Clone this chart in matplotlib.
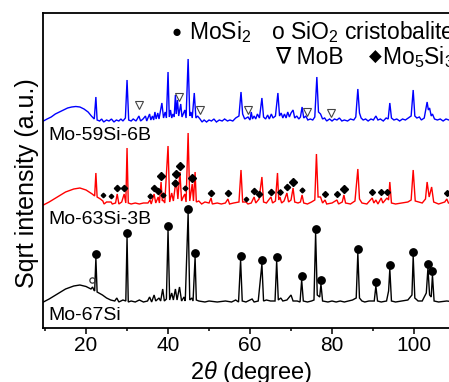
import matplotlib
matplotlib.use('Agg')
import matplotlib.pyplot as plt

plt.rcParams['font.family'] = ['Liberation Sans', 'DejaVu Sans']
plt.rcParams['mathtext.fontset'] = 'custom'
plt.rcParams['mathtext.rm'] = 'Liberation Sans'
plt.rcParams['mathtext.it'] = 'Liberation Sans:italic'

# ---------------- data (2theta in degree, intensity in arbitrary units above each baseline) -------------
mo67si_profile = [
    (9.6, 1), (11, 4), (13, 9), (15, 14), (17, 17), (18.5, 18), (20, 16.5), (21.2, 14), (21.6, 16), (21.9, 13),
    (22.1, 12), (22.4, 45), (22.7, 11), (24, 8), (25, 5), (26, 3), (27, 2), (27.5, 5), (28, 1), (29, 3), (29.7, 2),
    (30.0, 66), (30.3, 1), (31, 2), (32, 1), (33, 3), (34, 1), (35, 2), (35.5, 6), (36, 1), (36.6, 8), (37, 2),
    (37.8, 5), (38.2, 2), (38.7, 14), (39.1, 2), (39.6, 4), (40.0, 73), (40.4, 3), (40.9, 10), (41.3, 3),
    (41.8, 14), (42.2, 3), (42.8, 16), (43.3, 2), (43.9, 6), (44.2, 2), (44.9, 90), (45.3, 3), (45.8, 5),
    (46.1, 2), (46.6, 46), (46.9, 3), (47.5, 2), (49, 1), (50, 2), (52, 1), (54, 2), (55.5, 1), (56.5, 3),
    (57.2, 1), (57.7, 43), (58.1, 2), (59, 1), (60.5, 4), (61, 1), (62, 2), (62.9, 39), (63.3, 2), (64, 3),
    (65, 2), (66.1, 2), (66.5, 42), (66.9, 3), (67.5, 5), (68, 2), (69, 3), (70, 8), (70.5, 2), (71.5, 2),
    (72.2, 1), (72.6, 23), (73, 2), (74, 1), (75, 2), (75.6, 3), (76.0, 70), (76.4, 8), (77.0, 6), (77.3, 19),
    (77.7, 2), (79, 1), (80, 2), (81, 1), (82, 2), (83, 1), (84, 2), (85, 3), (85.9, 5), (86.3, 50), (86.7, 5),
    (87.3, 2), (88, 1), (89, 2), (90.3, 2), (90.7, 17), (91.1, 2), (92, 1), (93.3, 2), (93.8, 12), (94.1, 34),
    (94.5, 2), (95.5, 1), (97, 2), (98.5, 3), (99.5, 8), (99.8, 47), (100.2, 5), (101, 2), (102, 2), (103.0, 10),
    (103.4, 35), (103.8, 8), (104.2, 6), (104.5, 28), (104.9, 2), (106, 1), (108, 2), (110, 1),
]

mo63si3b_profile = [
    (9.6, 0), (11, 3), (13, 8), (15, 13), (17, 16), (18.5, 17), (20, 15), (21.5, 11), (22.1, 9), (22.4, 32),
    (22.7, 8), (23.5, 6), (24.1, 4), (24.4, 1), (25, 3), (26.1, 3), (26.4, 1), (27.2, 2), (27.6, 11), (28, 1),
    (28.7, 3), (29.3, 11), (29.7, 2), (30.0, 57), (30.3, 2), (31, 1), (32, 2), (33, 1), (34, 2), (35.1, 2),
    (35.6, 5), (35.9, 1), (36.6, 11), (37, 2), (37.6, 8), (37.9, 2), (38.3, 23), (38.6, 4), (38.8, 5), (39.2, 2),
    (40.0, 59), (40.4, 3), (40.9, 12), (41.3, 4), (41.7, 17), (42.0, 25), (42.4, 6), (42.9, 33), (43.3, 4),
    (43.7, 8), (44.1, 11), (44.4, 3), (44.9, 72), (45.3, 4), (45.9, 21), (46.2, 4), (46.6, 33), (46.9, 3),
    (47.5, 4), (48.2, 1), (49, 3), (50, 2), (50.5, 7), (50.8, 1), (52, 2), (53, 1), (54, 2), (54.6, 6), (55, 1),
    (56, 2), (57.3, 3), (57.8, 35), (58.2, 3), (59.0, 3), (59.5, 1), (60.3, 2), (61.0, 8), (61.4, 2), (62.2, 6),
    (62.9, 28), (63.3, 3), (64, 2), (65.1, 8), (65.5, 2), (66.2, 4), (66.7, 32), (67.0, 5), (67.3, 8), (67.7, 2),
    (68.3, 4), (69.0, 12), (69.4, 3), (70.0, 5), (70.5, 17), (70.9, 3), (71.7, 2), (72.3, 3), (72.7, 10),
    (73.1, 2), (74, 1), (75, 3), (75.8, 5), (76.2, 51), (76.6, 8), (77.2, 8), (77.7, 2), (78.3, 5), (78.7, 1),
    (80, 2), (81.2, 5), (81.6, 1), (82.5, 3), (82.9, 10), (83.3, 2), (84.5, 1), (85.6, 4), (86.3, 36), (86.7, 6),
    (87.3, 2), (88.5, 1), (89.8, 7), (90.2, 2), (90.7, 5), (91.2, 1), (92.0, 7), (92.4, 2), (93.4, 7), (93.8, 5),
    (94.1, 23), (94.5, 2), (95.5, 1), (97, 2), (98.5, 3), (99.3, 5), (99.8, 35), (100.3, 4), (101.2, 3),
    (102, 2), (102.8, 6), (103.2, 23), (103.7, 8), (104.3, 18), (104.8, 3), (106, 1), (107.5, 3), (108.0, 6),
    (108.4, 2), (110, 1),
]

mo59si6b_profile = [
    (9.6, 1), (10.5, 3), (11.5, 5), (12.5, 8), (13.5, 10), (14.5, 12), (15.5, 14), (16.5, 15), (17.5, 15.5),
    (18.5, 15), (19.5, 13), (20.5, 10), (21.3, 6), (22.0, 3), (22.4, 25), (22.7, 2), (23.3, 1), (23.8, 3),
    (24.3, 0), (25, 2), (25.6, 1), (26.2, 3), (26.8, 0), (27.4, 2), (28, 1), (28.5, 3), (29, 1), (29.6, 4),
    (30.0, 42), (30.4, 2), (31, 1), (31.5, 3), (32.2, 1), (32.9, 6), (33.3, 1), (33.9, 3), (34.5, 6), (34.8, 1),
    (35.5, 8), (35.8, 2), (36.2, 6), (36.5, 2), (36.8, 10), (37.1, 3), (37.5, 9), (37.8, 3), (38.5, 19),
    (38.9, 4), (39.3, 10), (39.6, 4), (40.0, 50), (40.3, 5), (40.6, 12), (40.9, 4), (41.2, 8), (41.5, 5),
    (41.8, 27), (42.0, 8), (42.3, 22), (42.6, 6), (43.1, 18), (43.4, 5), (43.7, 8), (44.1, 12), (44.4, 4),
    (44.9, 63), (45.3, 6), (45.6, 10), (45.9, 4), (46.4, 29), (46.8, 4), (47.2, 6), (47.8, 3), (48.3, 0),
    (48.8, 2), (49.4, 0), (50, 2), (50.6, 1), (51.2, 3), (51.8, 0), (52.5, 2), (53.2, 1), (53.8, 3), (54.5, 1),
    (55.1, 2), (55.8, 1), (56.5, 4), (57.3, 6), (57.8, 30), (58.2, 8), (58.7, 3), (59.5, 5), (60.0, 2),
    (60.3, 10), (60.6, 3), (61.0, 6), (61.4, 3), (61.8, 8), (62.3, 4), (62.9, 24), (63.3, 5), (63.8, 3),
    (64.3, 7), (64.7, 3), (65.2, 8), (65.6, 4), (66.2, 6), (66.8, 29), (67.2, 6), (67.6, 9), (68.0, 4),
    (68.4, 8), (68.8, 4), (69.2, 10), (69.6, 5), (70.0, 9), (70.5, 12), (70.9, 4), (71.4, 6), (71.9, 3),
    (72.3, 5), (72.7, 15), (73.1, 4), (73.6, 6), (74.1, 2), (74.7, 3), (75.3, 2), (75.8, 5), (76.3, 45),
    (76.7, 10), (77.2, 8), (77.7, 3), (78.2, 4), (78.7, 1), (79.4, 3), (80, 1), (80.6, 3), (81.2, 2), (81.8, 4),
    (82.4, 1), (83, 2), (83.8, 1), (84.5, 3), (85.3, 2), (85.8, 5), (86.3, 33), (86.7, 9), (87.1, 4), (87.6, 2),
    (88.2, 3), (88.8, 1), (89.5, 3), (90.1, 2), (90.7, 6), (91.2, 2), (91.8, 3), (92.5, 1), (93.2, 4),
    (93.7, 3), (94.1, 19), (94.5, 4), (95.1, 2), (95.8, 3), (96.5, 1), (97.2, 3), (97.9, 2), (98.6, 4),
    (99.3, 6), (99.8, 32), (100.2, 6), (100.7, 4), (101.3, 5), (101.8, 2), (102.5, 4), (103.2, 20), (103.5, 12),
    (103.8, 14), (104.2, 6), (104.5, 8), (105, 3), (105.7, 2), (106.4, 3), (107.1, 1), (107.8, 3), (108.5, 2),
    (109.2, 3), (110, 1),
]

sample_names = ['Mo-67Si', 'Mo-63Si-3B', 'Mo-59Si-6B']

# phase markers (2theta, height above the corresponding baseline)
mosi2_tt = [22.4, 30.0, 40.0, 44.9, 46.6, 57.7, 62.9, 66.5, 72.6, 76.0, 77.3, 86.3, 90.7, 94.1, 99.8, 103.4, 104.5]
mosi2_h = [49, 70, 77, 94, 50, 47, 43, 46, 27, 74, 23, 54, 21, 38, 51, 39, 32]

sio2_tt = [21.5]
sio2_h = [23]

mob_tt = [32.9, 42.7, 47.8, 59.5, 73.9, 79.8]
mob_h = [17, 25, 12, 12, 10, 9]

mo5si3_tt = [24.1, 26.1, 27.6, 29.3, 35.6, 36.6, 37.6, 38.3, 38.8, 41.7, 42.0, 42.9, 44.1, 45.9, 50.5, 54.6,
             59.0, 61.0, 62.2, 65.1, 67.3, 69.0, 70.5, 72.7, 78.3, 81.2, 82.9, 89.8, 92.0, 93.4, 108.0]
mo5si3_h = [10, 9, 17, 17, 9, 17, 14, 29, 10, 22, 31, 39, 17, 27, 12, 12,
            6, 14, 11, 13, 13, 18, 23, 15, 11, 11, 16, 13, 13, 13, 12]

# ---------------- style / layout ----------------
offsets = [25, 123, 206]
colors = ['black', '#ff0000', '#0000ff']
mo5si3_ms = [2.3, 2.3, 3.2, 3.2, 2.5, 3.2, 3.2, 4.5, 2.5, 3.5, 4.5, 4.5, 2.5, 4.0, 3.2, 3.2,
             2.3, 3.2, 3.2, 3.2, 2.8, 3.2, 4.0, 2.5, 3.0, 3.0, 4.0, 3.0, 3.0, 3.0, 3.0]

fig = plt.figure(figsize=(4.49, 3.82), dpi=100)
ax = fig.add_axes([43 / 449, (382 - 328) / 382, 412 / 449, 315 / 382])

profiles = [mo67si_profile, mo63si3b_profile, mo59si6b_profile]
for prof, off, col in zip(profiles, offsets, colors):
    tt = [p[0] for p in prof]
    yy = [p[1] + off for p in prof]
    ax.plot(tt, yy, color=col, lw=1.0, solid_joinstyle='miter')

# markers
ax.plot(mosi2_tt, [h + offsets[0] for h in mosi2_h], 'o', color='black', ms=5.3, mec='black', ls='none')
ax.plot(sio2_tt, [h + offsets[0] for h in sio2_h], 'o', ms=3.8, mfc='none', mec='#333333', mew=0.9, ls='none')
ax.plot(mob_tt, [h + offsets[2] for h in mob_h], 'v', ms=5.6, mfc='white', mec='#444444', mew=0.8, ls='none')
for t, h, s in zip(mo5si3_tt, mo5si3_h, mo5si3_ms):
    ax.plot([t], [h + offsets[1]], 'D', color='black', ms=s, ls='none')

# sample labels
label_y = [(382 - 315 - 54) / 315, (382 - 219 - 54) / 315, (382 - 135 - 54) / 315]
for name, ly in zip(sample_names, label_y):
    ax.text(5 / 412, ly, name, transform=ax.transAxes, fontsize=14, ha='left', va='center')

# phase legend text
def fx(px):
    return (px - 43) / 412

def fy(py):
    return (328 - py) / 315

ax.text(fx(172), fy(32), '\u25cf', transform=ax.transAxes, fontsize=12, ha='left', va='center')
ax.text(fx(189), fy(32), 'MoSi$_\\mathregular{2}$', transform=ax.transAxes, fontsize=16.5, ha='left',
        va='center')
ax.text(fx(271), fy(32), 'o SiO$_\\mathregular{2}$ cristobalite', transform=ax.transAxes, fontsize=16.5,
        ha='left', va='center', clip_on=False)
ax.text(fx(275), fy(57), '\u2207 MoB', transform=ax.transAxes, fontsize=16.5, ha='left', va='center')
ax.text(fx(369), fy(57), '\u25c6', transform=ax.transAxes, fontsize=12, ha='left', va='center')
ax.text(fx(382), fy(57), 'Mo$_\\mathregular{5}$Si$_\\mathregular{3}$', transform=ax.transAxes, fontsize=16.5,
        ha='left', va='center')

ax.set_xlim(9.5, 110)
ax.set_ylim(0, 315)
ax.set_xticks([20, 40, 60, 80, 100])
ax.set_xticks([10, 30, 50, 70, 90, 110], minor=True)
ax.set_yticks([])
ax.tick_params(axis='x', which='major', direction='out', length=4, width=1.1, labelsize=15, pad=2)
ax.tick_params(axis='x', which='minor', direction='out', length=2.5, width=1.1)
for sp in ax.spines.values():
    sp.set_linewidth(1.3)

ax.set_xlabel('2$\\mathit{\\theta}$ (degree)', fontsize=17)
ax.xaxis.set_label_coords(fx(251), fy(359))
ax.set_ylabel('Sqrt intensity (a.u.)', fontsize=18)
ax.yaxis.set_label_coords(fx(39), fy(183))

fig.savefig('out.png', dpi=100)
